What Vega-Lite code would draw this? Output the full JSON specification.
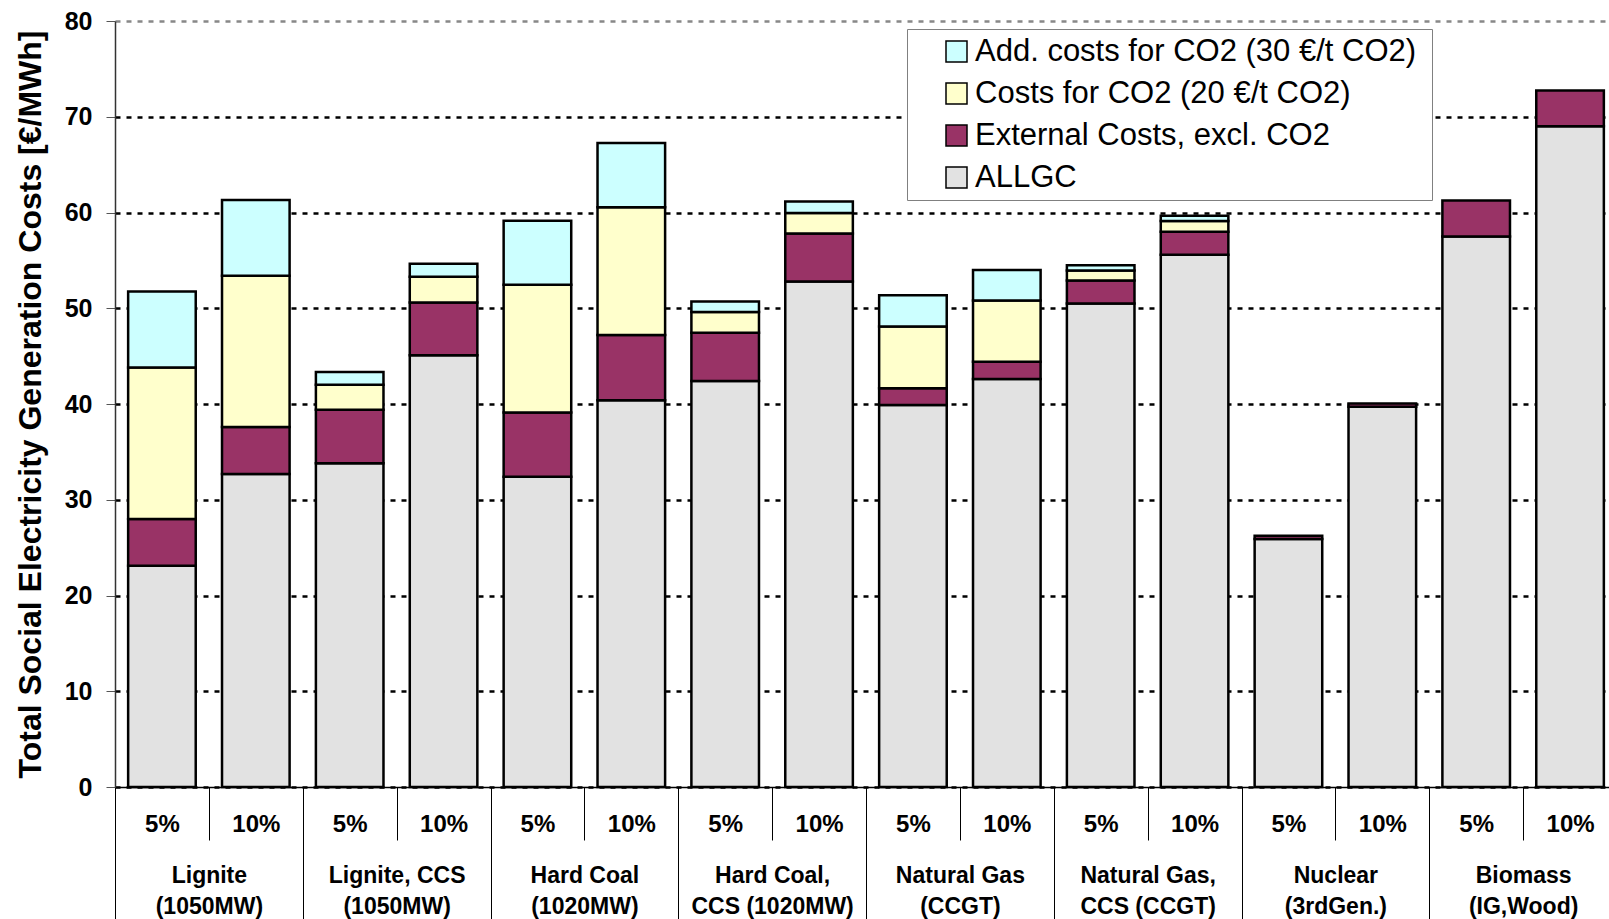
{
  "$schema": "https://vega.github.io/schema/vega-lite/v6.json",
  "width": 1494,
  "height": 766,
  "autosize": {"type": "none"},
  "padding": {"left": 115, "top": 21, "right": 0, "bottom": 132},
  "background": "white",
  "config": {"view": {"stroke": null}, "font": "Liberation Sans"},
  "datasets": {
    "costs": [
      {"bar": "Lignite (1050MW)|5%", "c": "ALLGC", "o": 1, "v": 23.1},
      {"bar": "Lignite (1050MW)|5%", "c": "External Costs, excl. CO2", "o": 2, "v": 4.9},
      {"bar": "Lignite (1050MW)|5%", "c": "Costs for CO2 (20  €/t CO2)", "o": 3, "v": 15.8},
      {"bar": "Lignite (1050MW)|5%", "c": "Add. costs for CO2 (30  €/t CO2)", "o": 4, "v": 7.95},
      {"bar": "Lignite (1050MW)|10%", "c": "ALLGC", "o": 1, "v": 32.7},
      {"bar": "Lignite (1050MW)|10%", "c": "External Costs, excl. CO2", "o": 2, "v": 4.9},
      {"bar": "Lignite (1050MW)|10%", "c": "Costs for CO2 (20  €/t CO2)", "o": 3, "v": 15.8},
      {"bar": "Lignite (1050MW)|10%", "c": "Add. costs for CO2 (30  €/t CO2)", "o": 4, "v": 7.9},
      {"bar": "Lignite, CCS (1050MW)|5%", "c": "ALLGC", "o": 1, "v": 33.8},
      {"bar": "Lignite, CCS (1050MW)|5%", "c": "External Costs, excl. CO2", "o": 2, "v": 5.6},
      {"bar": "Lignite, CCS (1050MW)|5%", "c": "Costs for CO2 (20  €/t CO2)", "o": 3, "v": 2.6},
      {"bar": "Lignite, CCS (1050MW)|5%", "c": "Add. costs for CO2 (30  €/t CO2)", "o": 4, "v": 1.33},
      {"bar": "Lignite, CCS (1050MW)|10%", "c": "ALLGC", "o": 1, "v": 45.1},
      {"bar": "Lignite, CCS (1050MW)|10%", "c": "External Costs, excl. CO2", "o": 2, "v": 5.5},
      {"bar": "Lignite, CCS (1050MW)|10%", "c": "Costs for CO2 (20  €/t CO2)", "o": 3, "v": 2.7},
      {"bar": "Lignite, CCS (1050MW)|10%", "c": "Add. costs for CO2 (30  €/t CO2)", "o": 4, "v": 1.35},
      {"bar": "Hard Coal (1020MW)|5%", "c": "ALLGC", "o": 1, "v": 32.4},
      {"bar": "Hard Coal (1020MW)|5%", "c": "External Costs, excl. CO2", "o": 2, "v": 6.7},
      {"bar": "Hard Coal (1020MW)|5%", "c": "Costs for CO2 (20  €/t CO2)", "o": 3, "v": 13.35},
      {"bar": "Hard Coal (1020MW)|5%", "c": "Add. costs for CO2 (30  €/t CO2)", "o": 4, "v": 6.7},
      {"bar": "Hard Coal (1020MW)|10%", "c": "ALLGC", "o": 1, "v": 40.4},
      {"bar": "Hard Coal (1020MW)|10%", "c": "External Costs, excl. CO2", "o": 2, "v": 6.8},
      {"bar": "Hard Coal (1020MW)|10%", "c": "Costs for CO2 (20  €/t CO2)", "o": 3, "v": 13.35},
      {"bar": "Hard Coal (1020MW)|10%", "c": "Add. costs for CO2 (30  €/t CO2)", "o": 4, "v": 6.7},
      {"bar": "Hard Coal, CCS (1020MW)|5%", "c": "ALLGC", "o": 1, "v": 42.4},
      {"bar": "Hard Coal, CCS (1020MW)|5%", "c": "External Costs, excl. CO2", "o": 2, "v": 5.05},
      {"bar": "Hard Coal, CCS (1020MW)|5%", "c": "Costs for CO2 (20  €/t CO2)", "o": 3, "v": 2.15},
      {"bar": "Hard Coal, CCS (1020MW)|5%", "c": "Add. costs for CO2 (30  €/t CO2)", "o": 4, "v": 1.1},
      {"bar": "Hard Coal, CCS (1020MW)|10%", "c": "ALLGC", "o": 1, "v": 52.8},
      {"bar": "Hard Coal, CCS (1020MW)|10%", "c": "External Costs, excl. CO2", "o": 2, "v": 5.0},
      {"bar": "Hard Coal, CCS (1020MW)|10%", "c": "Costs for CO2 (20  €/t CO2)", "o": 3, "v": 2.15},
      {"bar": "Hard Coal, CCS (1020MW)|10%", "c": "Add. costs for CO2 (30  €/t CO2)", "o": 4, "v": 1.2},
      {"bar": "Natural Gas (CCGT)|5%", "c": "ALLGC", "o": 1, "v": 39.9},
      {"bar": "Natural Gas (CCGT)|5%", "c": "External Costs, excl. CO2", "o": 2, "v": 1.75},
      {"bar": "Natural Gas (CCGT)|5%", "c": "Costs for CO2 (20  €/t CO2)", "o": 3, "v": 6.45},
      {"bar": "Natural Gas (CCGT)|5%", "c": "Add. costs for CO2 (30  €/t CO2)", "o": 4, "v": 3.25},
      {"bar": "Natural Gas (CCGT)|10%", "c": "ALLGC", "o": 1, "v": 42.6},
      {"bar": "Natural Gas (CCGT)|10%", "c": "External Costs, excl. CO2", "o": 2, "v": 1.8},
      {"bar": "Natural Gas (CCGT)|10%", "c": "Costs for CO2 (20  €/t CO2)", "o": 3, "v": 6.4},
      {"bar": "Natural Gas (CCGT)|10%", "c": "Add. costs for CO2 (30  €/t CO2)", "o": 4, "v": 3.2},
      {"bar": "Natural Gas, CCS (CCGT)|5%", "c": "ALLGC", "o": 1, "v": 50.5},
      {"bar": "Natural Gas, CCS (CCGT)|5%", "c": "External Costs, excl. CO2", "o": 2, "v": 2.4},
      {"bar": "Natural Gas, CCS (CCGT)|5%", "c": "Costs for CO2 (20  €/t CO2)", "o": 3, "v": 1.05},
      {"bar": "Natural Gas, CCS (CCGT)|5%", "c": "Add. costs for CO2 (30  €/t CO2)", "o": 4, "v": 0.55},
      {"bar": "Natural Gas, CCS (CCGT)|10%", "c": "ALLGC", "o": 1, "v": 55.6},
      {"bar": "Natural Gas, CCS (CCGT)|10%", "c": "External Costs, excl. CO2", "o": 2, "v": 2.4},
      {"bar": "Natural Gas, CCS (CCGT)|10%", "c": "Costs for CO2 (20  €/t CO2)", "o": 3, "v": 1.1},
      {"bar": "Natural Gas, CCS (CCGT)|10%", "c": "Add. costs for CO2 (30  €/t CO2)", "o": 4, "v": 0.55},
      {"bar": "Nuclear (3rdGen.)|5%", "c": "ALLGC", "o": 1, "v": 25.9},
      {"bar": "Nuclear (3rdGen.)|5%", "c": "External Costs, excl. CO2", "o": 2, "v": 0.35},
      {"bar": "Nuclear (3rdGen.)|10%", "c": "ALLGC", "o": 1, "v": 39.7},
      {"bar": "Nuclear (3rdGen.)|10%", "c": "External Costs, excl. CO2", "o": 2, "v": 0.35},
      {"bar": "Biomass (IG,Wood)|5%", "c": "ALLGC", "o": 1, "v": 57.5},
      {"bar": "Biomass (IG,Wood)|5%", "c": "External Costs, excl. CO2", "o": 2, "v": 3.75},
      {"bar": "Biomass (IG,Wood)|10%", "c": "ALLGC", "o": 1, "v": 69.0},
      {"bar": "Biomass (IG,Wood)|10%", "c": "External Costs, excl. CO2", "o": 2, "v": 3.75}
    ],
    "groups": [
      {"g": "Lignite|(1050MW)"},
      {"g": "Lignite, CCS|(1050MW)"},
      {"g": "Hard Coal|(1020MW)"},
      {"g": "Hard Coal,|CCS (1020MW)"},
      {"g": "Natural Gas|(CCGT)"},
      {"g": "Natural Gas,|CCS (CCGT)"},
      {"g": "Nuclear|(3rdGen.)"},
      {"g": "Biomass|(IG,Wood)"}
    ]
  },
  "layer": [
    {
      "data": {"name": "costs"},
      "mark": {"type": "bar", "width": {"band": 0.72}, "stroke": "black", "strokeWidth": 2.5},
      "encoding": {
        "x": {
          "field": "bar", "type": "nominal", "sort": null,
          "scale": {"range": [0, 1502], "paddingInner": 0, "paddingOuter": 0},
          "axis": {
            "title": null, "orient": "bottom", "tickBand": "extent", "tickSize": 53,
            "tickColor": "black", "tickWidth": 1, "domainColor": "black", "domainWidth": 1.5,
            "labelExpr": "split(datum.label, '|')[1]", "labelAngle": 0,
            "labelFont": "Liberation Sans", "labelFontWeight": "bold", "labelFontSize": 24,
            "labelColor": "black", "labelPadding": -16, "labelBaseline": "middle",
            "grid": false, "labelOverlap": false
          }
        },
        "y": {
          "field": "v", "type": "quantitative", "stack": "zero",
          "scale": {"domain": [0, 80], "nice": false},
          "axis": {
            "title": "Total Social Electricity Generation Costs [€/MWh]",
            "values": [0, 10, 20, 30, 40, 50, 60, 70, 80],
            "tickSize": 9, "tickColor": "#555", "domainColor": "#333", "domainWidth": 1.5,
            "labelFont": "Liberation Sans", "labelFontSize": 25, "labelFontWeight": "bold",
            "labelColor": "black", "labelPadding": 14,
            "titleFont": "Liberation Sans", "titleFontSize": 32, "titleFontWeight": "bold",
            "titleColor": "black", "titlePadding": 17,
            "grid": true,
            "gridColor": {"condition": {"test": "datum.value === 80", "value": "#888888"}, "value": "black"},
            "gridDash": [5, 6], "gridWidth": 2.5
          }
        },
        "color": {
          "field": "c", "type": "nominal",
          "scale": {
            "domain": ["Add. costs for CO2 (30  €/t CO2)", "Costs for CO2 (20  €/t CO2)", "External Costs, excl. CO2", "ALLGC"],
            "range": ["#CCFFFF", "#FFFFCC", "#993366", "#E2E2E2"]
          },
          "legend": {
            "title": null, "orient": "none", "legendX": 792, "legendY": 8,
            "fillColor": "white", "strokeColor": "#808080", "padding": 7,
            "symbolType": "square", "symbolSize": 441, "symbolStrokeColor": "black",
            "symbolStrokeWidth": 1.5, "symbolOffset": 27,
            "labelFont": "Liberation Sans", "labelFontSize": 31, "labelColor": "black",
            "labelOffset": 3, "rowPadding": 10, "labelLimit": 700
          }
        },
        "order": {"field": "o", "type": "quantitative"}
      }
    },
    {
      "data": {"name": "groups"},
      "mark": {"type": "point", "opacity": 0},
      "encoding": {
        "x": {
          "field": "g", "type": "nominal", "sort": null,
          "scale": {"range": [0, 1502], "paddingInner": 0, "paddingOuter": 0},
          "axis": {
            "title": null, "orient": "bottom", "tickBand": "extent", "tickSize": 135,
            "tickColor": "black", "tickWidth": 1, "domain": false,
            "labelExpr": "split(datum.label, '|')", "labelAngle": 0,
            "labelFont": "Liberation Sans", "labelFontWeight": "bold", "labelFontSize": 23,
            "labelLineHeight": 31, "labelColor": "black", "labelPadding": -47,
            "labelBaseline": "middle", "grid": false, "labelOverlap": false, "labelLimit": 400
          }
        }
      }
    }
  ],
  "resolve": {"scale": {"x": "independent"}, "axis": {"x": "independent"}}
}
